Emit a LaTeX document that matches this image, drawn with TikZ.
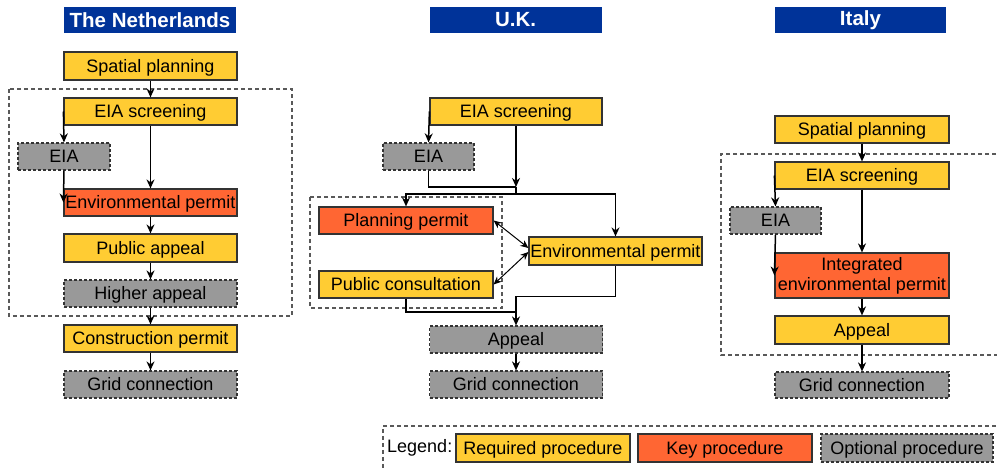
\documentclass[tikz,border=0pt]{standalone}
\usepackage{fontspec}
\setmainfont{Liberation Sans}
\usetikzlibrary{arrows.meta}
\definecolor{reqcol}{HTML}{FFCC33}
\definecolor{keycol}{HTML}{FF6633}
\definecolor{optcol}{HTML}{999999}
\definecolor{titlecol}{HTML}{003399}
\definecolor{edgecol}{HTML}{333333}
\tikzset{
  box/.style={draw=edgecol, line width=1.2pt, minimum width=173pt, minimum height=27pt,
    inner sep=0pt, font=\fontsize{18}{20}\selectfont, text=black, align=center,
    text height=16.9pt, text depth=4pt},
  req/.style={box, fill=reqcol},
  keyp/.style={box, fill=keycol},
  opt/.style={box, fill=optcol, dash pattern=on 3pt off 2pt},
  ttl/.style={fill=titlecol, text=white, minimum width=172pt, minimum height=26pt,
    inner sep=0pt, font=\bfseries\fontsize{20.5}{22}\selectfont},
  group/.style={draw=black!65, line width=1.1pt, dash pattern=on 4pt off 3pt},
  arr/.style={line width=1.5pt, -{Stealth[length=9pt,width=8pt]}},
  link/.style={line width=1.5pt},
  darr/.style={line width=1pt, {Stealth[length=8pt,width=7pt]}-{Stealth[length=8pt,width=7pt]}}
}
\begin{document}
\begin{tikzpicture}[x=1pt, y=-1pt]
\useasboundingbox (0,0) rectangle (997,470);
\clip (0,0) rectangle (997,470);

% ---------------- The Netherlands ----------------
\draw[group] (9,89) rectangle (292,316);
\node[ttl] (nlt) at (150,20) {The Netherlands};
\node[req]  (nlsp)   at (150.5,66)    [minimum height=28pt] {Spatial planning};
\node[req]  (nlscr)  at (150.5,111.5) {EIA screening};
\node[opt]  (nleia)  at (64,156.5)    [minimum width=92pt] {EIA};
\node[keyp] (nlenv)  at (150.5,202.5) {Environmental permit};
\node[req]  (nlpub)  at (150.5,248)   [minimum height=28pt] {Public appeal};
\node[opt]  (nlhigh) at (150.5,293.5) {Higher appeal};
\node[req]  (nlcon)  at (150.5,338.5) {Construction permit};
\node[opt]  (nlgrid) at (150.5,384.5) {Grid connection};

\draw[arr] (nlsp) -- (nlscr);
\draw[arr] (nlscr.west) -- (nleia.north);
\draw[arr] (nleia.south) -- (nlenv.west);
\draw[arr] (nlscr) -- (nlenv);
\draw[arr] (nlenv) -- (nlpub);
\draw[arr] (nlpub) -- (nlhigh);
\draw[arr] (nlhigh) -- (nlcon);
\draw[arr] (nlcon) -- (nlgrid);

% ---------------- U.K. ----------------
\draw[group] (310,197) rectangle (502,308);
\node[ttl] (ukt) at (515.5,20) {U.K.};
\node[req]  (ukscr)  at (516,111.5)   [minimum width=172pt] {EIA screening};
\node[opt]  (ukeia)  at (428.5,156.5) [minimum width=91pt] {EIA};
\node[keyp] (ukplan) at (406,220.5)   [minimum width=174pt] {Planning permit};
\node[req]  (ukpub)  at (406,284.5)   [minimum width=174pt] {Public consultation};
\node[req]  (ukenv)  at (615.5,251)   [minimum height=28pt] {Environmental permit};
\node[opt]  (ukapp)  at (516,339.5)   {Appeal};
\node[opt]  (ukgrid) at (516,384.5)   {Grid connection};

\coordinate (ukj)  at (516,187);
\coordinate (ukjb) at (516,194);
\coordinate (ukm)  at (516,312);

\draw[arr] (ukscr.west) -- (ukeia.north);
\draw[arr] (ukscr) -- (ukj);
\draw[link] (ukeia.south) |- (ukj);
\draw[link] (ukj) -- (ukjb);
\draw[arr] (ukjb) -| (ukplan.north);
\draw[arr] (ukjb) -| (ukenv.north);
\draw[darr] (ukplan.east) -- ([yshift=3pt]ukenv.west);
\draw[darr] (ukpub.east) -- ([yshift=-1pt]ukenv.west);
\draw[link] (ukpub.south) |- (ukm);
\draw[arr] (ukenv.south) -- ++(0,31) -| (ukapp.north);
\draw[arr] (ukapp) -- (ukgrid);

% ---------------- Italy ----------------
\draw[group] (1010,154) -- (721,154) -- (721,355) -- (1010,355);
\node[ttl] (itt) at (860.5,20) [minimum width=171pt] {Italy};
\node[req]  (itsp)   at (862,129.5) [minimum width=174pt] {Spatial planning};
\node[req]  (itscr)  at (862,175.5) [minimum width=174pt] {EIA screening};
\node[opt]  (iteia)  at (775.5,220.5) [minimum width=91pt] {EIA};
\node[keyp] (itint)  at (862,275.5) [minimum width=174pt, minimum height=45pt,
  text height=, text depth=] {Integrated\\environmental permit};
\node[req]  (itapp)  at (862,330)   [minimum width=174pt, minimum height=28pt] {Appeal};
\node[opt]  (itgrid) at (862,385)   [minimum width=174pt, minimum height=26pt] {Grid connection};

\draw[arr] (itsp) -- (itscr);
\draw[arr] (itscr.west) -- (iteia.north);
\draw[arr] (iteia.south) -- (itint.west);
\draw[arr] (itscr) -- (itint);
\draw[arr] (itint) -- (itapp);
\draw[arr] (itapp) -- (itgrid);

% ---------------- Legend ----------------
\draw[group] (1010,426) -- (383,426) -- (383,480);
\node[anchor=west, inner sep=0pt, font=\fontsize{18}{20}\selectfont] (lgt) at (387,448) {Legend:};
\node[req]  (lgreq) at (543,448) [minimum width=174pt, minimum height=28pt] {Required procedure};
\node[keyp] (lgkey) at (725,448) [minimum width=174pt, minimum height=28pt] {Key procedure};
\node[opt]  (lgopt) at (907,448) [minimum width=172pt, minimum height=28pt] {Optional procedure};
\end{tikzpicture}
\end{document}
